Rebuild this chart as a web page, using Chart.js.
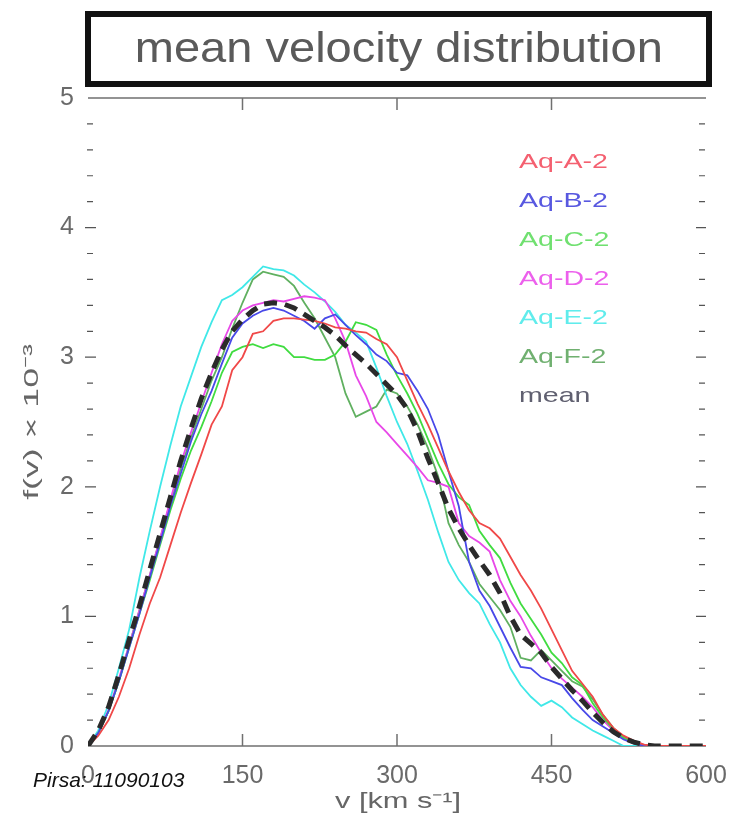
<!DOCTYPE html>
<html>
<head>
<meta charset="utf-8">
<script src="https://cdn.jsdelivr.net/npm/chart.js@4.4.1/dist/chart.umd.min.js"></script>
<style>
  html, body { margin: 0; padding: 0; background: #fff; }
  #wrap { position: relative; width: 730px; height: 822px; }
  #title {
    position: absolute; left: 85px; top: 11px; width: 615px; height: 64px;
    border: 6px solid #111; text-align: center;
    font: 42px "Liberation Sans", Arial, sans-serif; color: #5a5a5a; line-height: 62px;
  }
  #title span { display: inline-block; transform: scaleX(1.12); }
  #pirsa {
    position: absolute; left: 33px; top: 768px;
    font: italic 21px "Liberation Sans", Arial, sans-serif; color: #111;
  }
</style>
</head>
<body>
<div id="wrap">
  <canvas id="c" width="730" height="822"></canvas>
  <div id="title"><span>mean velocity distribution</span></div>
  <div id="pirsa">Pirsa: 11090103</div>
</div>
<script>
const velocity = [0, 10, 20, 30, 40, 50, 60, 70, 80, 90, 100, 110, 120, 130, 140, 150, 160, 170, 180, 190,
  200, 210, 220, 230, 240, 250, 260, 270, 280, 290, 300, 310, 320, 330, 340, 350, 360, 370, 380, 390,
  400, 410, 420, 430, 440, 450, 460, 470, 480, 490, 500, 510, 520, 530, 540, 550, 560, 570, 580, 590, 600];

const aqA = [0, 0.08, 0.2, 0.38, 0.6, 0.86, 1.1, 1.3, 1.55, 1.8, 2.03, 2.25, 2.48, 2.62, 2.9, 3.0, 3.18, 3.2, 3.28, 3.3,
  3.3, 3.29, 3.28, 3.26, 3.23, 3.22, 3.2, 3.19, 3.14, 3.1, 3.0, 2.82, 2.64, 2.48, 2.3, 2.12, 1.96, 1.82, 1.72, 1.68,
  1.6, 1.46, 1.32, 1.2, 1.06, 0.9, 0.74, 0.58, 0.48, 0.38, 0.24, 0.14, 0.08, 0.04, 0.01, 0, 0, 0, 0, 0, 0];
const aqB = [0, 0.1, 0.27, 0.5, 0.76, 1.02, 1.3, 1.57, 1.85, 2.1, 2.35, 2.56, 2.74, 2.95, 3.15, 3.26, 3.32, 3.36, 3.38, 3.36,
  3.32, 3.28, 3.22, 3.3, 3.33, 3.25, 3.17, 3.1, 3.02, 2.97, 2.88, 2.86, 2.74, 2.6, 2.4, 2.12, 1.85, 1.42, 1.2, 1.08,
  0.92, 0.76, 0.61, 0.6, 0.53, 0.5, 0.47, 0.37, 0.28, 0.2, 0.15, 0.1, 0.05, 0.02, 0, 0, 0, 0, 0, 0, 0];
const aqC = [0, 0.1, 0.27, 0.5, 0.76, 1.02, 1.28, 1.55, 1.82, 2.06, 2.28, 2.46, 2.66, 2.88, 3.04, 3.08, 3.1, 3.07, 3.1, 3.08,
  3.0, 3.0, 2.98, 2.98, 3.02, 3.12, 3.27, 3.25, 3.21, 3.02, 2.86, 2.72, 2.56, 2.37, 2.18, 2.02, 1.92, 1.86, 1.66, 1.55,
  1.45, 1.26, 1.1, 0.98, 0.86, 0.72, 0.64, 0.53, 0.47, 0.33, 0.22, 0.13, 0.06, 0.02, 0, 0, 0, 0, 0, 0, 0];
const aqD = [0, 0.1, 0.28, 0.52, 0.78, 1.05, 1.32, 1.6, 1.9, 2.18, 2.42, 2.65, 2.88, 3.1, 3.28, 3.36, 3.4, 3.42, 3.44, 3.43,
  3.45, 3.47, 3.46, 3.44, 3.3, 3.12, 2.86, 2.7, 2.5, 2.42, 2.33, 2.24, 2.15, 2.05, 2.03, 2.0, 1.72, 1.62, 1.57, 1.5,
  1.28, 1.12, 1.0, 0.85, 0.72, 0.6, 0.52, 0.45, 0.38, 0.3, 0.2, 0.12, 0.06, 0.02, 0, 0, 0, 0, 0, 0, 0];
const aqE = [0, 0.12, 0.32, 0.6, 0.9, 1.3, 1.66, 2.0, 2.32, 2.62, 2.85, 3.08, 3.27, 3.44, 3.48, 3.54, 3.62, 3.7, 3.68, 3.67,
  3.63, 3.56, 3.5, 3.43, 3.35, 3.25, 3.19, 3.12, 2.92, 2.7, 2.5, 2.33, 2.12, 1.9, 1.65, 1.42, 1.28, 1.18, 1.1, 0.94,
  0.8, 0.6, 0.47, 0.38, 0.31, 0.35, 0.3, 0.22, 0.17, 0.12, 0.08, 0.04, 0, 0, 0, 0, 0, 0, 0, 0, 0];
const aqF = [0, 0.1, 0.27, 0.5, 0.78, 1.05, 1.32, 1.6, 1.88, 2.14, 2.38, 2.6, 2.82, 3.0, 3.22, 3.42, 3.6, 3.66, 3.64, 3.62,
  3.55, 3.42, 3.3, 3.15, 3.0, 2.72, 2.54, 2.58, 2.62, 2.75, 2.72, 2.62, 2.48, 2.3, 2.08, 1.72, 1.55, 1.42, 1.25, 1.15,
  1.05, 0.92, 0.68, 0.66, 0.74, 0.66, 0.58, 0.5, 0.46, 0.36, 0.24, 0.14, 0.07, 0.03, 0, 0, 0, 0, 0, 0, 0];
const meanF = [0, 0.12, 0.3, 0.55, 0.82, 1.08, 1.36, 1.64, 1.92, 2.2, 2.45, 2.68, 2.88, 3.06, 3.2, 3.29, 3.36, 3.41, 3.42, 3.41,
  3.38, 3.33, 3.28, 3.23, 3.17, 3.09, 3.02, 2.95, 2.87, 2.79, 2.71, 2.6, 2.43, 2.22, 2.03, 1.83, 1.68, 1.55, 1.43, 1.32,
  1.18, 1.0, 0.86, 0.79, 0.72, 0.61, 0.52, 0.43, 0.35, 0.26, 0.18, 0.11, 0.06, 0.03, 0.01, 0, 0, 0, 0, 0, 0];

const seriesNames = ["Aq-A-2", "Aq-B-2", "Aq-C-2", "Aq-D-2", "Aq-E-2", "Aq-F-2", "mean"];
const seriesValues = [aqA, aqB, aqC, aqD, aqE, aqF, meanF];
const lineColors = ["#f04848", "#4848e8", "#40dc40", "#e848e8", "#40e8e8", "#60b060", "#2a2a2a"];
const legendColors = ["#f46070", "#5858e0", "#70e070", "#ec60ec", "#60ecec", "#70b070", "#606070"];

const xMajorTicks = [150, 300, 450];
const yMajorTicks = [0, 1, 2, 3, 4, 5];
const yMinorTicks = [0.2, 0.4, 0.6, 0.8, 1.2, 1.4, 1.6, 1.8, 2.2, 2.4, 2.6, 2.8,
  3.2, 3.4, 3.6, 3.8, 4.2, 4.4, 4.6, 4.8];

const xTitle = "v [km s\u207B\u00B9]";
const yTitle = "f(v) \u00D7 10\u207B\u00B3";
const fontFamily = '"Liberation Sans", Arial, sans-serif';

// inward ticks and top/bottom frame lines, like the matlab box
const frameTicks = {
  id: "frameTicks",
  beforeDatasetsDraw(chart) {
    const { ctx, chartArea: a, scales: { x, y } } = chart;
    ctx.save();
    ctx.strokeStyle = "#707070";
    ctx.lineWidth = 1.5;
    ctx.beginPath();
    ctx.moveTo(a.left, a.top);
    ctx.lineTo(a.right, a.top);
    ctx.moveTo(a.left, a.bottom);
    ctx.lineTo(a.right, a.bottom);
    for (const v of xMajorTicks) {
      const px = x.getPixelForValue(v);
      ctx.moveTo(px, a.top);
      ctx.lineTo(px, a.top + 12);
      ctx.moveTo(px, a.bottom);
      ctx.lineTo(px, a.bottom - 12);
    }
    ctx.stroke();
    ctx.strokeStyle = "#555";
    ctx.lineWidth = 1.2;
    ctx.beginPath();
    for (const v of yMajorTicks.slice(1, 5)) {
      const py = y.getPixelForValue(v);
      ctx.moveTo(a.left - 3, py);
      ctx.lineTo(a.left + 8, py);
      ctx.moveTo(a.right - 10, py);
      ctx.lineTo(a.right, py);
    }
    for (const v of yMinorTicks) {
      const py = y.getPixelForValue(v);
      ctx.moveTo(a.left - 1, py);
      ctx.lineTo(a.left + 5, py);
      ctx.moveTo(a.right - 7, py);
      ctx.lineTo(a.right - 1, py);
    }
    ctx.stroke();
    ctx.restore();
  },
};

// legend is text only, in the series colours, sitting inside the axes
const textLegend = {
  id: "textLegend",
  afterDatasetsDraw(chart) {
    const { ctx } = chart;
    ctx.save();
    ctx.font = "21px " + fontFamily;
    ctx.textBaseline = "middle";
    chart.data.datasets.forEach((ds, i) => {
      ctx.fillStyle = legendColors[i];
      ctx.save();
      ctx.translate(519, 162 + i * 39);
      ctx.scale(1.36, 1);
      ctx.fillText(ds.label, 0, 0);
      ctx.restore();
    });
    ctx.restore();
  },
};

// axis titles are wider-set in the original, so draw them stretched
const axisTitles = {
  id: "axisTitles",
  afterDraw(chart) {
    const { ctx, chartArea: a } = chart;
    ctx.save();
    ctx.fillStyle = "#666";
    ctx.textAlign = "center";
    ctx.textBaseline = "middle";
    ctx.font = "22px " + fontFamily;
    ctx.save();
    ctx.translate((a.left + a.right) / 2 + 1, 802);
    ctx.scale(1.4, 1);
    ctx.fillText(xTitle, 0, 0);
    ctx.restore();
    ctx.font = "21px " + fontFamily;
    ctx.save();
    ctx.translate(32, (a.top + a.bottom) / 2);
    ctx.rotate(-Math.PI / 2);
    ctx.scale(1.7, 1);
    ctx.fillText(yTitle, 0, 0);
    ctx.restore();
    ctx.restore();
  },
};

const datasets = seriesNames.map((name, i) => {
  const isMean = name === "mean";
  return {
    label: name,
    data: velocity.map((v, k) => ({ x: v, y: seriesValues[i][k] })),
    borderColor: lineColors[i],
    borderWidth: isMean ? 5 : 1.8,
    borderDash: isMean ? [13, 8] : [],
    pointRadius: 0,
    tension: 0,
    fill: false,
    order: isMean ? 0 : 1,
  };
});

new Chart(document.getElementById("c"), {
  type: "line",
  data: { datasets },
  plugins: [frameTicks, textLegend, axisTitles],
  options: {
    responsive: false,
    animation: false,
    layout: { padding: { top: 98, right: 24, left: 0, bottom: 0 } },
    plugins: {
      legend: { display: false },
      tooltip: { enabled: false },
      title: { display: false },
    },
    scales: {
      x: {
        type: "linear",
        min: 0,
        max: 600,
        ticks: { stepSize: 150, color: "#6a6a6a", padding: 15,
          font: { family: fontFamily, size: 25 } },
        grid: { display: false, drawTicks: false },
        border: { display: false },
        afterFit(scale) {
          scale.height = 76;
          scale.paddingLeft = 0;
          scale.paddingRight = 0;
        },
      },
      y: {
        min: 0,
        max: 5,
        ticks: { stepSize: 1, color: "#6a6a6a", padding: 14,
          font: { family: fontFamily, size: 25 } },
        grid: { display: false, drawTicks: false },
        border: { display: false },
        afterFit(scale) {
          scale.width = 88;
          scale.paddingTop = 0;
          scale.paddingBottom = 0;
        },
      },
    },
  },
});
</script>
</body>
</html>
